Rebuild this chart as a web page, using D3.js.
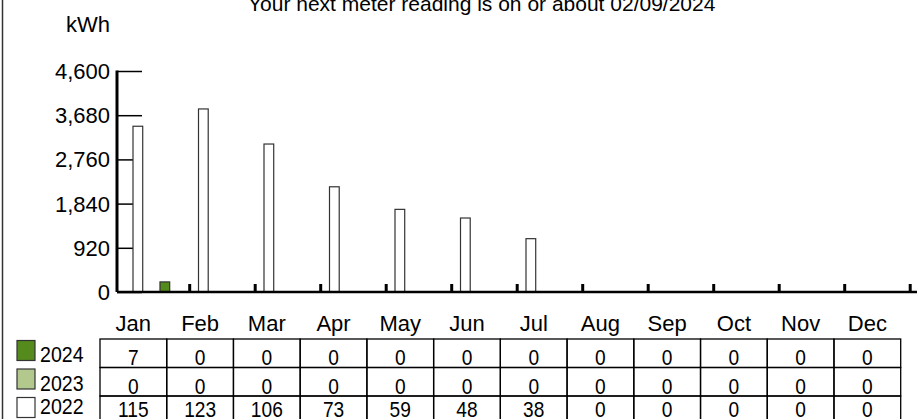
<!DOCTYPE html>
<html>
<head>
<meta charset="utf-8">
<script src="https://cdn.jsdelivr.net/npm/d3@7"></script>
<style>
  body { margin: 0; background: #fff; }
  svg { display: block; font-family: "Liberation Sans", Arial, sans-serif; }
</style>
</head>
<body>
<div id="chart"></div>
<script>
// data
var months = ["Jan","Feb","Mar","Apr","May","Jun","Jul","Aug","Sep","Oct","Nov","Dec"];
var years = ["2022","2023","2024"];
var kwh2022 = [3450, 3810, 3080, 2190, 1720, 1540, 1110, 0, 0, 0, 0, 0];
var kwh2023 = [0, 0, 0, 0, 0, 0, 0, 0, 0, 0, 0, 0];
var kwh2024 = [210, 0, 0, 0, 0, 0, 0, 0, 0, 0, 0, 0];
// table rows (daily averages)
var table2024 = [7, 0, 0, 0, 0, 0, 0, 0, 0, 0, 0, 0];
var table2023 = [0, 0, 0, 0, 0, 0, 0, 0, 0, 0, 0, 0];
var table2022 = [115, 123, 106, 73, 59, 48, 38, 0, 0, 0, 0, 0];
var yTicks = [0, 920, 1840, 2760, 3680, 4600];
var title = "Your next meter reading is on or about 02/09/2024";

var colors = {"2024": "#558a1d", "2023": "#b2c88d", "2022": "#ffffff"};

var W = 917, H = 419;
var svg = d3.select("#chart").append("svg").attr("width", W).attr("height", H);

// left frame line
svg.append("line").attr("x1", 2.5).attr("x2", 2.5).attr("y1", 0).attr("y2", H)
    .attr("stroke", "#333").attr("stroke-width", 1.5);

svg.append("text").attr("x", 248).attr("y", 11).attr("font-size", 21).text(title);
svg.append("text").attr("x", 88).attr("y", 32).attr("font-size", 22)
    .attr("text-anchor", "middle").text("kWh");

var y = d3.scaleLinear().domain([0, 4600]).range([292, 71]);
var x0 = d3.scaleBand().domain(months).range([124.2, 910.2]);
var x1 = d3.scaleBand().domain(years).range([8.8, 45.5]).paddingInner(0.28);

// y axis
var yAxis = svg.append("g").attr("transform", "translate(117,0)")
    .call(d3.axisRight(y).tickValues(yTicks).tickSize(25).tickFormat(""));
yAxis.select(".domain").remove();
yAxis.selectAll(".tick line").attr("stroke", "#000").attr("stroke-width", 1.5);
svg.append("line").attr("x1", 117).attr("x2", 117).attr("y1", y(4600) - 0.5).attr("y2", y(0))
    .attr("stroke", "#000").attr("stroke-width", 3);
svg.selectAll(".ylab").data(yTicks).enter().append("text")
    .attr("class", "ylab")
    .attr("x", 110).attr("y", function(d) { return y(d); }).attr("dy", "0.36em")
    .attr("text-anchor", "end").attr("font-size", 22)
    .text(d3.format(","));

// bars
var series = [
  {year: "2022", values: kwh2022},
  {year: "2023", values: kwh2023},
  {year: "2024", values: kwh2024}
];
series.forEach(function(s) {
  var pts = s.values.map(function(v, i) { return {m: months[i], v: v}; })
      .filter(function(d) { return d.v > 0; });
  svg.selectAll(".bar" + s.year).data(pts)
      .enter().append("rect")
      .attr("x", function(d) { return x0(d.m) + x1(s.year); })
      .attr("y", function(d) { return y(d.v); })
      .attr("width", x1.bandwidth())
      .attr("height", function(d) { return y(0) - y(d.v); })
      .attr("fill", colors[s.year])
      .attr("stroke", "#333").attr("stroke-width", 1.2);
});

// x axis
svg.append("line").attr("x1", 117).attr("x2", W).attr("y1", 292).attr("y2", 292)
    .attr("stroke", "#000").attr("stroke-width", 2.5);
svg.selectAll(".xtick").data(months).enter().append("line")
    .attr("x1", function(d) { return x0(d) + x0.bandwidth(); })
    .attr("x2", function(d) { return x0(d) + x0.bandwidth(); })
    .attr("y1", 284).attr("y2", 292)
    .attr("stroke", "#000").attr("stroke-width", 3);

// table
var rows = [
  {year: "2024", values: table2024},
  {year: "2023", values: table2023},
  {year: "2022", values: table2022}
];
var tx = d3.scaleBand().domain(months).range([100, 900.7]);
var ty = d3.scaleBand().domain(["2024","2023","2022"]).range([339, 424.5]);
function baseline(yr) { return Math.min(ty(yr) + 26, 417); }

svg.selectAll(".mlab").data(months).enter().append("text")
    .attr("x", function(d) { return tx(d) + tx.bandwidth() / 2; })
    .attr("y", 331).attr("text-anchor", "middle").attr("font-size", 22)
    .text(function(d) { return d; });

var row = svg.selectAll(".row").data(rows).enter().append("g");
function cells(r) { return r.values.map(function(v, i) { return {m: months[i], v: v, y: r.year}; }); }
row.selectAll("rect").data(cells)
    .enter().append("rect")
    .attr("x", function(d) { return tx(d.m); })
    .attr("y", function(d) { return ty(d.y); })
    .attr("width", tx.bandwidth()).attr("height", ty.bandwidth())
    .attr("fill", "none").attr("stroke", "#000").attr("stroke-width", 1.3);
row.selectAll("text").data(cells)
    .enter().append("text")
    .attr("transform", function(d) {
      return "translate(" + (tx(d.m) + tx.bandwidth() / 2) + "," + baseline(d.y) + ") scale(0.87,1)";
    })
    .attr("text-anchor", "middle").attr("font-size", 22)
    .text(function(d) { return d.v; });

// legend
row.append("rect")
    .attr("x", 17).attr("y", function(r) { return ty(r.year) + 1.5; })
    .attr("width", 18).attr("height", 20)
    .attr("fill", function(r) { return colors[r.year]; })
    .attr("stroke", "#333").attr("stroke-width", 1.2);
row.append("text")
    .attr("transform", function(r) { return "translate(40," + (baseline(r.year) - 3) + ") scale(0.89,1)"; })
    .attr("font-size", 22)
    .text(function(r) { return r.year; });
</script>
</body>
</html>
